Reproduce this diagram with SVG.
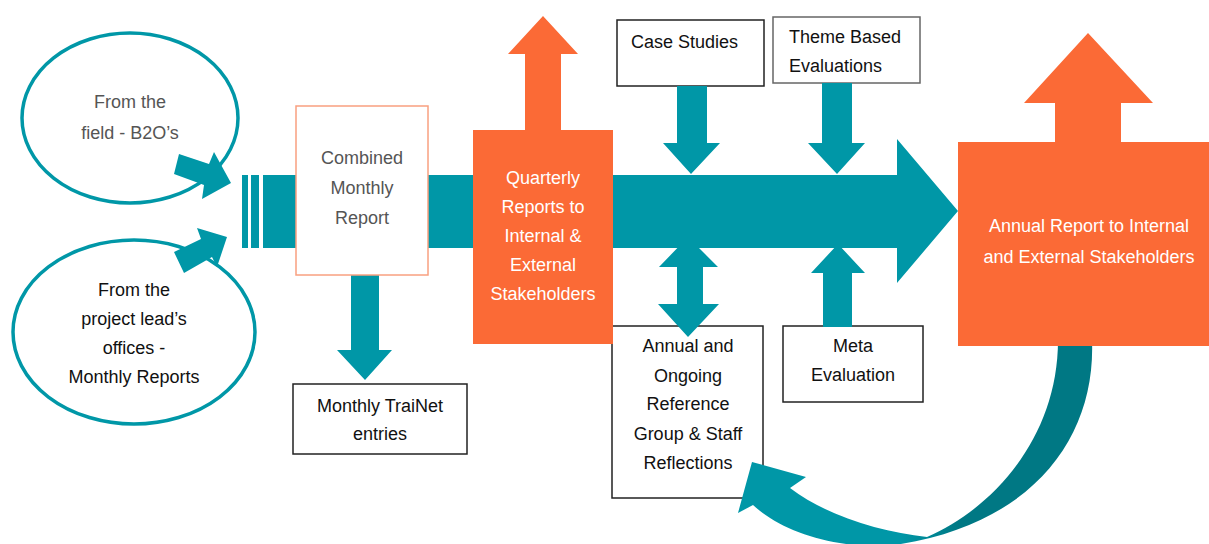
<svg xmlns="http://www.w3.org/2000/svg" width="1209" height="544" viewBox="0 0 1209 544">
<style>
.t{font-family:"Liberation Sans",Arial,sans-serif;font-size:18px;text-anchor:middle}
.g{fill:#555}
.k{fill:#111}
.w{fill:#fff}
.teal{fill:#0097A7}
.org{fill:#FB6A36}
.box{fill:#fff;stroke:#222;stroke-width:1.5}
.ell{fill:#fff;stroke:#0097A7;stroke-width:3.5}
</style>
<defs>
<linearGradient id="cg" gradientUnits="userSpaceOnUse" x1="900" y1="0" x2="960" y2="0">
<stop offset="0" stop-color="#0097A7"/>
<stop offset="1" stop-color="#007884"/>
</linearGradient>
</defs>
<g id="ellipse-field">
<ellipse class="ell" cx="130" cy="118" rx="108" ry="85"/>
<text class="t g" x="130" y="108">From the</text>
<text class="t g" x="130" y="139">field - B2O’s</text>
</g>
<g id="ellipse-project">
<ellipse class="ell" cx="134" cy="332" rx="121" ry="92"/>
<text class="t k" x="134" y="296">From the</text>
<text class="t k" x="134" y="325">project lead’s</text>
<text class="t k" x="134" y="354">offices -</text>
<text class="t k" x="134" y="383">Monthly Reports</text>
</g>
<g id="trainet">
<rect class="box" x="293" y="384" width="174" height="70"/>
<text class="t k" x="380" y="412">Monthly TraiNet</text>
<text class="t k" x="380" y="440">entries</text>
</g>
<g id="case-studies">
<rect class="box" x="617" y="20" width="147" height="66"/>
<text class="t k" x="631" y="48" style="text-anchor:start">Case Studies</text>
</g>
<g id="theme">
<rect x="773" y="17" width="147" height="66" fill="#fff" stroke="#666" stroke-width="1.5"/>
<text class="t k" x="789" y="43" style="text-anchor:start">Theme Based</text>
<text class="t k" x="789" y="72" style="text-anchor:start">Evaluations</text>
</g>
<g id="reflections">
<rect class="box" x="612" y="326" width="151" height="172"/>
<text class="t k" x="688" y="352">Annual and</text>
<text class="t k" x="688" y="382">Ongoing</text>
<text class="t k" x="688" y="410">Reference</text>
<text class="t k" x="688" y="440">Group &amp; Staff</text>
<text class="t k" x="688" y="469">Reflections</text>
</g>
<g id="meta">
<rect class="box" x="783" y="326" width="140" height="76"/>
<text class="t k" x="853" y="352">Meta</text>
<text class="t k" x="853" y="381">Evaluation</text>
</g>
<g id="connectors">
<!-- main arrow -->
<rect class="teal" x="242" y="175" width="6" height="73"/>
<rect class="teal" x="251" y="175" width="8" height="73"/>
<polygon class="teal" points="263,175 897,175 897,139 958,211 897,283 897,248 263,248"/>
<!-- ellipse arrows -->
<polygon class="teal" points="179,154 209,164 214,152 231,183 202,199 204,185 174,174"/>
<polygon class="teal" points="174,252 201,239 197,228 227,237 217,267 212,257 184,273"/>
<!-- down from combined -->
<polygon class="teal" points="351,270 379,270 379,350 392,350 365,380 337,350 351,350"/>
<!-- case studies down -->
<polygon class="teal" points="677,86 707,86 707,143 720,143 691,174 663,143 677,143"/>
<!-- theme down -->
<polygon class="teal" points="822,83 852,83 852,143 865,143 837,174 808,143 822,143"/>
<!-- double arrow -->
<polygon class="teal" points="688,237 718,267 703,267 703,304 719,304 688,337 658,304 677,304 677,267 659,267"/>
<!-- meta up -->
<polygon class="teal" points="838,244 865,273 852,273 852,327 823,327 823,273 811,273"/>
<!-- curved arrow -->
<path fill="url(#cg)" d="M752,462 L806,477 L790,488 C825,515 880,532 927,537 C990,510 1058,440 1058,340 L1092,340 C1096,440 1030,528 887,546 C830,548 780,530 753,505 L738,513 Z"/>
</g>
<g id="combined">
<rect x="296" y="106" width="132" height="169" fill="#fff" stroke="#F9A080" stroke-width="1.5"/>
<text class="t g" x="362" y="164">Combined</text>
<text class="t g" x="362" y="194">Monthly</text>
<text class="t g" x="362" y="224">Report</text>
</g>
<g id="quarterly">
<polygon class="org" points="543,16 578,54 561,54 561,131 525,131 525,54 508,54"/>
<rect class="org" x="473" y="130" width="140" height="214"/>
<text class="t w" x="543" y="184">Quarterly</text>
<text class="t w" x="543" y="213">Reports to</text>
<text class="t w" x="543" y="242">Internal &amp;</text>
<text class="t w" x="543" y="271">External</text>
<text class="t w" x="543" y="300">Stakeholders</text>
</g>
<g id="annual">
<polygon class="org" points="1088,33 1153,103 1121,103 1121,143 1055,143 1055,103 1024,103"/>
<rect class="org" x="958" y="142" width="251" height="204"/>
<text class="t w" x="1089" y="232">Annual Report to Internal</text>
<text class="t w" x="1089" y="263">and External Stakeholders</text>
</g>
</svg>
